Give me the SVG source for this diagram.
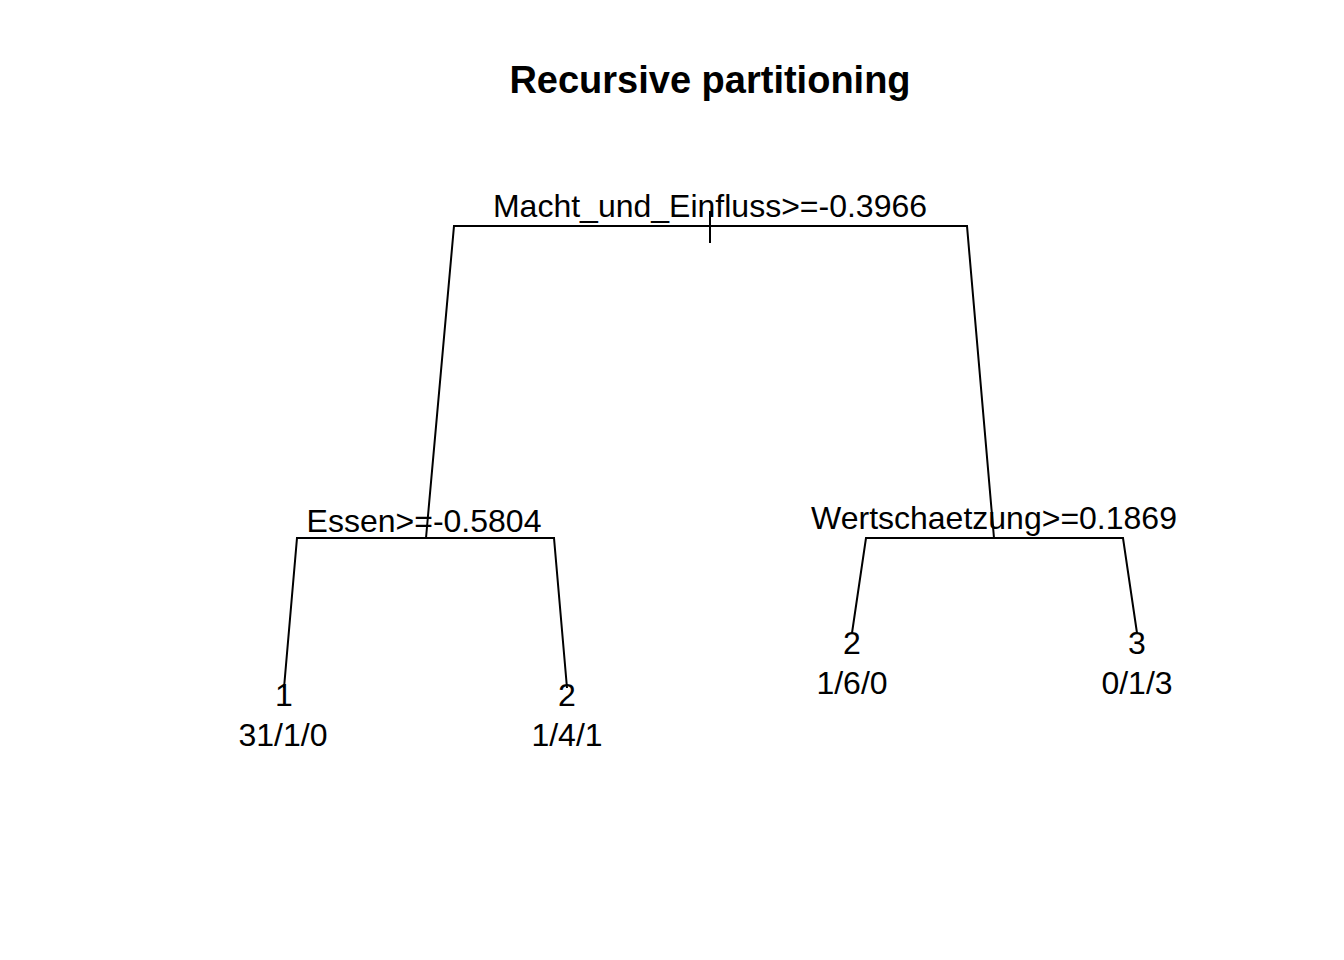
<svg xmlns="http://www.w3.org/2000/svg" width="1344" height="960" viewBox="0 0 1344 960">
<style>
text{font-family:"Liberation Sans",Arial,sans-serif;font-size:32px;fill:#000;text-anchor:middle}
.t{font-weight:bold;font-size:38px}
.e{stroke:#000;stroke-width:2;fill:none}
</style>
<rect width="1344" height="960" fill="#fff"/>
<text class="t" x="710" y="93">Recursive partitioning</text>
<g id="connectors">
<path class="e" d="M710,211V243"/>
<path class="e" d="M426,538L454,226H967L994,538"/>
<path class="e" d="M284,688L297,538H554L567,688"/>
<path class="e" d="M852,633L866,538H1123L1137,633"/>
</g>
<g id="n_root"><text x="710" y="217">Macht_und_Einfluss&gt;=-0.3966</text></g>
<g id="n_essen"><text x="424" y="532">Essen&gt;=-0.5804</text></g>
<g id="n_wert"><text x="994" y="529">Wertschaetzung&gt;=0.1869</text></g>
<g id="leaf1"><text x="284" y="706">1</text><text x="283" y="746">31/1/0</text></g>
<g id="leaf2"><text x="567" y="706">2</text><text x="567" y="746">1/4/1</text></g>
<g id="leaf3"><text x="852" y="654">2</text><text x="852" y="694">1/6/0</text></g>
<g id="leaf4"><text x="1137" y="654">3</text><text x="1137" y="694">0/1/3</text></g>
</svg>
